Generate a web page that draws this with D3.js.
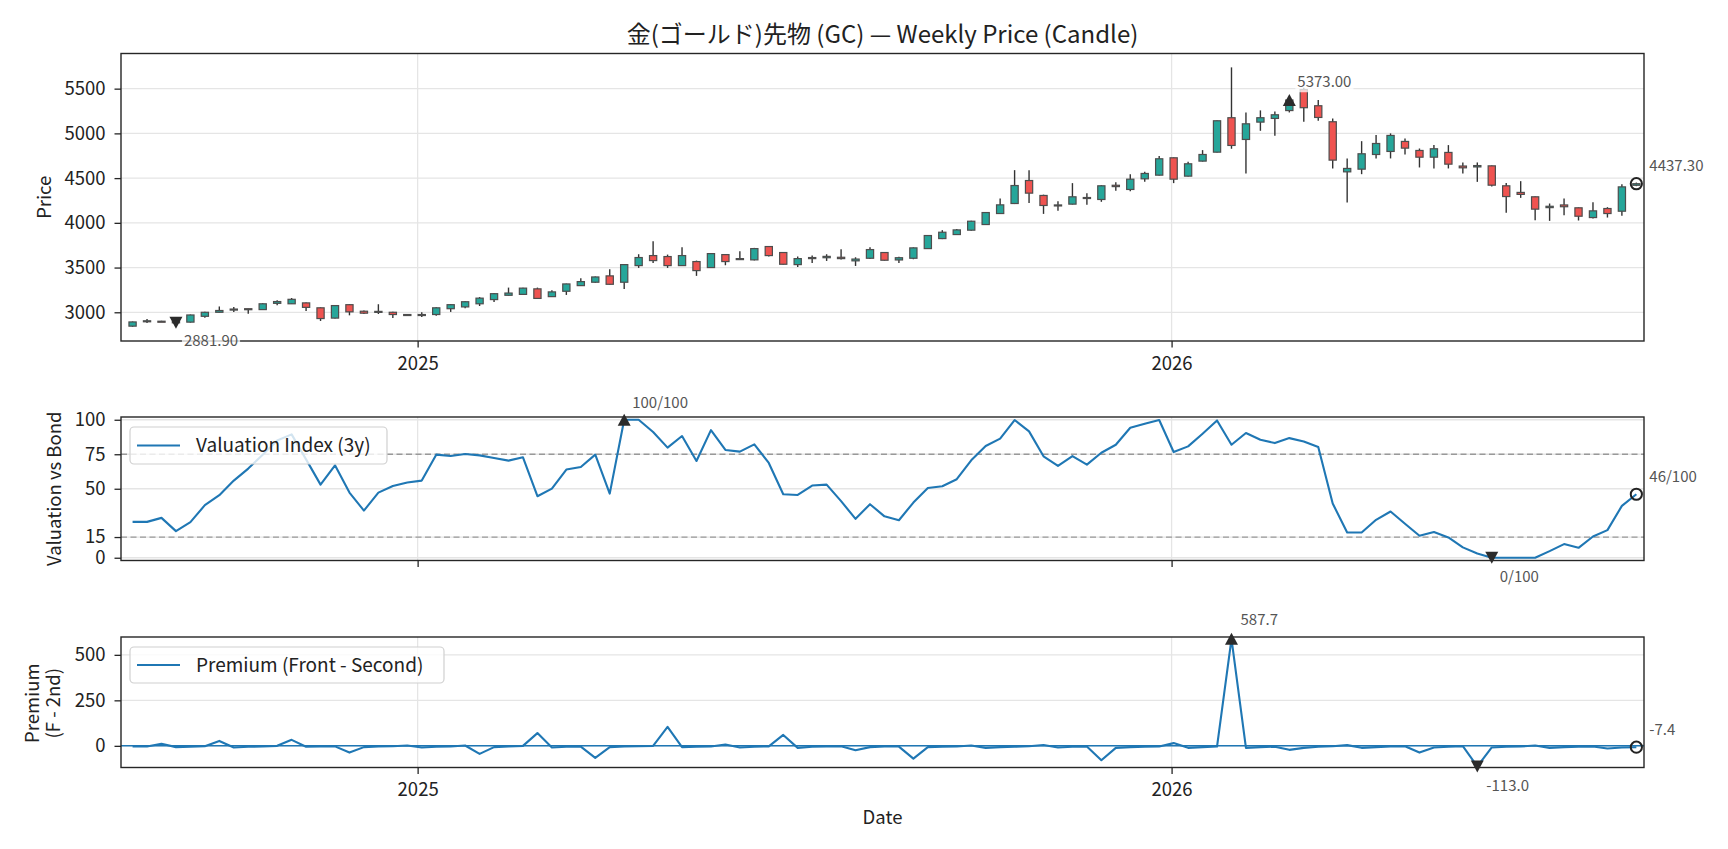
<!DOCTYPE html>
<html>
<head>
<meta charset="utf-8">
<script src="https://cdn.jsdelivr.net/npm/d3@7"></script>
<style>
  body { margin: 0; background: #fff; }
  svg text { font-family: "Noto Sans CJK JP", "Noto Sans", sans-serif; }
</style>
</head>
<body>
<svg width="1728" height="849"></svg>
<script>
// weekly bars (Friday)
var dates = [
  "2024-08-16","2024-08-23","2024-08-30","2024-09-06","2024-09-13","2024-09-20","2024-09-27",
  "2024-10-04","2024-10-11","2024-10-18","2024-10-25","2024-11-01","2024-11-08","2024-11-15",
  "2024-11-22","2024-11-29","2024-12-06","2024-12-13","2024-12-20","2024-12-27","2025-01-03",
  "2025-01-10","2025-01-17","2025-01-24","2025-01-31","2025-02-07","2025-02-14","2025-02-21",
  "2025-02-28","2025-03-07","2025-03-14","2025-03-21","2025-03-28","2025-04-04","2025-04-11",
  "2025-04-18","2025-04-25","2025-05-02","2025-05-09","2025-05-16","2025-05-23","2025-05-30",
  "2025-06-06","2025-06-13","2025-06-20","2025-06-27","2025-07-04","2025-07-11","2025-07-18",
  "2025-07-25","2025-08-01","2025-08-08","2025-08-15","2025-08-22","2025-08-29","2025-09-05",
  "2025-09-12","2025-09-19","2025-09-26","2025-10-03","2025-10-10","2025-10-17","2025-10-24",
  "2025-10-31","2025-11-07","2025-11-14","2025-11-21","2025-11-28","2025-12-05","2025-12-12",
  "2025-12-19","2025-12-26","2026-01-02","2026-01-09","2026-01-16","2026-01-23","2026-01-30",
  "2026-02-06","2026-02-13","2026-02-20","2026-02-27","2026-03-06","2026-03-13","2026-03-20",
  "2026-03-27","2026-04-03","2026-04-10","2026-04-17","2026-04-24","2026-05-01","2026-05-08",
  "2026-05-15","2026-05-22","2026-05-29","2026-06-05","2026-06-12","2026-06-19","2026-06-26",
  "2026-07-03","2026-07-10","2026-07-17","2026-07-24","2026-07-31","2026-08-07","2026-08-14"
];

var open = [
  2845,2898,2900,2895,2890,2955,3000,3030,3040,3030,3100,3095,3105,3050,2935,3085,3012,3005,3000,2975,
  2965,2975,3040,3060,3095,3142,3190,3200,3262,3175,3235,3298,3336,3407,3336,3522,3634,3623,3522,3567,
  3500,3645,3590,3586,3735,3668,3533,3600,3610,3615,3575,3604,3668,3585,3604,3712,3824,3869,3918,3981,
  4104,4216,4473,4306,4190,4209,4275,4261,4420,4373,4492,4533,4727,4522,4690,4790,5175,4932,5126,5167,
  5255,5490,5309,5130,4570,4600,4764,4798,4910,4809,4734,4787,4635,4625,4637,4414,4340,4291,4170,4200,
  4168,4059,4160,4130,4420
];
var high = [
  2897,2925,2905,2905,2975,3005,3065,3060,3040,3100,3134,3160,3110,3055,3078,3090,3020,3090,3005,2978,
  3000,3055,3090,3122,3170,3215,3276,3275,3276,3246,3320,3380,3400,3481,3540,3649,3794,3645,3727,3578,
  3660,3650,3683,3720,3740,3672,3623,3634,3649,3705,3615,3727,3672,3620,3725,3860,3918,3930,4022,4120,
  4272,4589,4589,4315,4242,4444,4332,4420,4455,4544,4570,4746,4730,4682,4813,5145,5738,5234,5257,5245,
  5380,5510,5372,5167,4720,4913,4981,5000,4943,4831,4869,4869,4675,4675,4640,4444,4466,4295,4216,4272,
  4172,4231,4175,4432,4450
];
var low = [
  2838,2880,2893,2870,2885,2938,2998,3004,2985,3025,3078,3095,3015,2903,2930,2966,2980,2981,2937,2968,
  2948,2960,3004,3045,3070,3115,3188,3195,3150,3172,3194,3295,3330,3310,3261,3496,3552,3496,3518,3407,
  3498,3526,3585,3580,3625,3533,3507,3552,3574,3590,3518,3597,3578,3552,3593,3708,3818,3865,3912,3978,
  4100,4210,4223,4100,4134,4205,4201,4235,4358,4354,4458,4530,4444,4518,4685,4785,4828,4552,5029,4973,
  5234,5130,5141,4608,4227,4544,4720,4720,4764,4619,4608,4608,4552,4458,4406,4112,4279,4029,4022,4085,
  4026,4048,4059,4078,4410
];
var close = [
  2892,2905,2897,2881.9,2970,3000,3020,3036,3035,3095,3120,3145,3055,2930,3075,3005,2990,3010,2975,2972,
  2975,3050,3085,3118,3158,3208,3215,3270,3155,3228,3317,3343,3395,3313,3533,3612,3578,3522,3634,3466,
  3656,3567,3600,3712,3634,3537,3600,3612,3625,3600,3595,3701,3582,3610,3720,3858,3895,3921,4018,4115,
  4201,4417,4332,4194,4200,4291,4283,4414,4405,4488,4552,4716,4488,4660,4764,5141,4865,5107,5175,5208,
  5373,5287,5178,4701,4608,4772,4887,4977,4835,4734,4828,4656,4615,4640,4421,4294,4318,4153,4185,4180,
  4074,4134,4104,4402,4437.3
];

// valuation index vs bond, 0-100
var valuation = [
  26.0,26.0,28.9,19.3,25.8,38.1,45.3,55.9,64.6,74.7,85.0,89.4,71.3,53.0,67.0,47.2,34.2,47.2,52.0,54.5,
  55.9,74.7,73.7,75.2,74.2,72.3,70.4,72.8,44.6,50.1,63.9,65.8,74.7,46.5,100,100,91.1,79.8,88.2,70.1,
  92.5,78.1,76.9,82.2,68.7,46.0,45.5,52.3,53.0,41.0,28.2,38.8,30.0,27.2,40.0,50.6,51.8,56.9,70.6,81.0,
  86.3,99.8,91.6,73.5,66.5,73.7,67.5,76.1,81.9,94.2,97.1,99.8,76.6,80.7,89.9,99.5,81.9,90.4,85.5,83.1,
  86.7,84.3,80.2,39.3,18.3,18.3,27.5,33.5,24.6,15.9,18.6,14.7,7.5,3.1,0,0,0,0,4.8,9.9,
  7.2,15.4,20.0,37.6,46
];

// front minus second month
var premium = [
  -4,-4,11,-7,-5,-2,27,-9,-5,-4,0,33,-5,-4,-3,-37,-7,-4,-2,2,
  -9,-5,-4,2,-44,-7,-4,0,70,-9,-5,-4,-66,-7,-4,-2,0,104,-7,-5,
  -4,7,-9,-5,-3,60,-11,-5,-4,-2,-24,-7,-4,-4,-70,-7,-5,-4,2,-11,
  -7,-5,-2,5,-9,-5,-4,-79,-11,-7,-5,-4,15,-11,-7,-4,587.7,-11,-7,-5,
  -22,-11,-5,-2,4,-11,-7,-4,-2,-37,-9,-5,-2,-113,-9,-5,-4,2,-11,-7,
  -5,-4,-15,-9,-7.4
];

var priceTicks = [3000, 3500, 4000, 4500, 5000, 5500];
var valTicks = [0, 15, 50, 75, 100];
var valBands = [15, 75];
var premTicks = [0, 250, 500];
var yearTicks = ["2025-01-01", "2026-01-01"];

var svg = d3.select("svg"),
    left = 121,
    right = 1644,
    DAY = 864e5;

var parse = d3.timeParse("%Y-%m-%d");
var years = yearTicks.map(parse);

var data = dates.map(function(d, i) {
  return {date: parse(d), o: open[i], h: high[i], l: low[i], c: close[i],
          v: valuation[i], p: premium[i]};
});
var last = data[data.length - 1];

// scales
var x = d3.scaleTime()
    .domain([new Date(+data[0].date - 5.6 * DAY), new Date(+last.date + 3.7 * DAY)])
    .range([left, right]);

var pricePanel = {top: 53.5, bottom: 341},
    valPanel = {top: 417, bottom: 560.5},
    premPanel = {top: 637, bottom: 767.5};

var yPrice = d3.scaleLinear().domain([2679, 5893]).range([pricePanel.bottom, pricePanel.top]);
var yVal = d3.scaleLinear().domain([-2, 102]).range([valPanel.bottom, valPanel.top]);
var yPrem = d3.scaleLinear().domain([-119, 598]).range([premPanel.bottom, premPanel.top]);

var BLUE = "#1f77b4", INK = "#262626";

// grid + axes for one panel
function frame(panel, y, ticks, yearLabels) {
  var g = svg.append("g");
  g.selectAll(".hgrid").data(ticks).enter().append("line")
      .attr("x1", left).attr("x2", right)
      .attr("y1", function(d) { return y(d); })
      .attr("y2", function(d) { return y(d); })
      .attr("stroke", "#e5e5e5").attr("stroke-width", 1.3);
  g.selectAll(".vgrid").data(years).enter().append("line")
      .attr("x1", function(d) { return x(d); })
      .attr("x2", function(d) { return x(d); })
      .attr("y1", panel.top).attr("y2", panel.bottom)
      .attr("stroke", "#e5e5e5").attr("stroke-width", 1.3);

  var ya = svg.append("g")
      .attr("transform", "translate(" + left + ",0)")
      .call(d3.axisLeft(y).tickValues(ticks).tickSize(6.5).tickPadding(9).tickFormat(d3.format("d")));
  var xa = svg.append("g")
      .attr("transform", "translate(0," + panel.bottom + ")")
      .call(d3.axisBottom(x).tickValues(years).tickSize(6.5).tickPadding(9)
        .tickFormat(yearLabels ? d3.timeFormat("%Y") : function() { return ""; }));
  [ya, xa].forEach(function(a) {
    a.select(".domain").remove();
    a.selectAll(".tick line").attr("stroke", INK).attr("stroke-width", 1.3);
    a.selectAll(".tick text").attr("fill", "#222").attr("font-size", 18.5)
        .style("font-family", "'Noto Sans CJK JP', 'Noto Sans', sans-serif");
  });
}

function spine(panel) {
  svg.append("rect")
      .attr("x", left).attr("y", panel.top)
      .attr("width", right - left).attr("height", panel.bottom - panel.top)
      .attr("fill", "none").attr("stroke", INK).attr("stroke-width", 1.4);
}

function marker(kind, cx, cy) {
  if (kind === "o") {
    svg.append("circle").attr("cx", cx).attr("cy", cy).attr("r", 5.6)
        .attr("fill", "none").attr("stroke", "#222").attr("stroke-width", 2);
    return;
  }
  var s = kind === "^" ? -1 : 1;
  svg.append("path")
      .attr("d", "M" + (cx - 6.5) + "," + (cy - s * 6) + "L" + (cx + 6.5) + "," + (cy - s * 6) +
                 "L" + cx + "," + (cy + s * 6) + "Z")
      .attr("fill", "#2b2b2b");
}

function note(label, px, py) {
  var g = svg.append("g");
  var t = g.append("text")
      .attr("x", px).attr("y", py).attr("dy", "0.35em")
      .attr("font-size", 15).attr("fill", "#555")
      .text(label);
  var b = t.node().getBBox();
  g.insert("rect", "text")
      .attr("x", b.x - 2).attr("y", b.y - 1)
      .attr("width", b.width + 4).attr("height", b.height + 2)
      .attr("fill", "#fff").attr("fill-opacity", 0.75);
}

function legend(x0, y0, w, h, label) {
  var g = svg.append("g");
  g.append("rect")
      .attr("x", x0).attr("y", y0).attr("width", w).attr("height", h).attr("rx", 4)
      .attr("fill", "#fff").attr("fill-opacity", 0.8)
      .attr("stroke", "#d0d0d0").attr("stroke-width", 1.2);
  g.append("line")
      .attr("x1", x0 + 7).attr("x2", x0 + 50)
      .attr("y1", y0 + h / 2).attr("y2", y0 + h / 2)
      .attr("stroke", BLUE).attr("stroke-width", 2.2);
  g.append("text")
      .attr("x", x0 + 66).attr("y", y0 + h / 2).attr("dy", "0.35em")
      .attr("font-size", 19).attr("fill", "#222")
      .text(label);
}

function ylabel(lines, cx, cy) {
  lines.forEach(function(s, i) {
    svg.append("text")
        .attr("transform", "translate(" + (cx + i * 21) + "," + cy + ") rotate(-90)")
        .attr("text-anchor", "middle").attr("dy", "0.35em")
        .attr("font-size", 18.5).attr("fill", "#222")
        .text(s);
  });
}

// PRICE PANEL ------------------------
frame(pricePanel, yPrice, priceTicks, true);

var step = x(data[1].date) - x(data[0].date),
    bodyW = step * 0.5;

var candle = svg.append("g").selectAll("g")
    .data(data)
  .enter().append("g");

candle.append("line") // wick
    .attr("x1", function(d) { return x(d.date); })
    .attr("x2", function(d) { return x(d.date); })
    .attr("y1", function(d) { return yPrice(d.h); })
    .attr("y2", function(d) { return yPrice(d.l); })
    .attr("stroke", "#333").attr("stroke-width", 1.4);

candle.append("rect") // body
    .attr("x", function(d) { return x(d.date) - bodyW / 2; })
    .attr("width", bodyW)
    .attr("y", function(d) { return yPrice(Math.max(d.o, d.c)); })
    .attr("height", function(d) { return Math.max(1, Math.abs(yPrice(d.o) - yPrice(d.c))); })
    .attr("fill", function(d) { return d.c >= d.o ? "#26a69a" : "#ef5350"; })
    .attr("stroke", "#4d4d4d").attr("stroke-width", 1.2);

spine(pricePanel);

var pMax = data[d3.maxIndex(data, function(d) { return d.c; })],
    pMin = data[d3.minIndex(data, function(d) { return d.c; })];
marker("^", x(pMax.date), yPrice(pMax.c));
note(pMax.c.toFixed(2), x(pMax.date) + 8, yPrice(pMax.c) - 18);
marker("v", x(pMin.date), yPrice(pMin.c));
note(pMin.c.toFixed(2), x(pMin.date) + 8, yPrice(pMin.c) + 18);
marker("o", x(last.date), yPrice(last.c));
note(last.c.toFixed(2), x(last.date) + 13, yPrice(last.c) - 18);

// VALUATION PANEL ------------------------
frame(valPanel, yVal, valTicks, false);

svg.append("g").selectAll("line")
    .data(valBands)
  .enter().append("line")
    .attr("x1", left).attr("x2", right)
    .attr("y1", function(d) { return yVal(d); })
    .attr("y2", function(d) { return yVal(d); })
    .attr("stroke", "#999").attr("stroke-width", 1.3)
    .attr("stroke-dasharray", "6,3.5");

svg.append("path")
    .datum(data)
    .attr("fill", "none").attr("stroke", BLUE).attr("stroke-width", 2.1)
    .attr("stroke-linejoin", "round")
    .attr("d", d3.line()
      .x(function(d) { return x(d.date); })
      .y(function(d) { return yVal(d.v); }));

spine(valPanel);

var vMax = data[d3.maxIndex(data, function(d) { return d.v; })],
    vMin = data[d3.minIndex(data, function(d) { return d.v; })];
marker("^", x(vMax.date), yVal(vMax.v));
note(Math.round(vMax.v) + "/100", x(vMax.date) + 8, yVal(vMax.v) - 17);
marker("v", x(vMin.date), yVal(vMin.v));
note(Math.round(vMin.v) + "/100", x(vMin.date) + 8, yVal(vMin.v) + 19);
marker("o", x(last.date), yVal(last.v));
note(Math.round(last.v) + "/100", x(last.date) + 13, yVal(last.v) - 18);

legend(130, 427, 257, 37, "Valuation Index (3y)");

// PREMIUM PANEL ------------------------
frame(premPanel, yPrem, premTicks, true);

svg.append("line") // zero line
    .attr("x1", left).attr("x2", right)
    .attr("y1", yPrem(0)).attr("y2", yPrem(0))
    .attr("stroke", BLUE).attr("stroke-width", 1.5);

svg.append("path")
    .datum(data)
    .attr("fill", "none").attr("stroke", BLUE).attr("stroke-width", 2.1)
    .attr("stroke-linejoin", "round")
    .attr("d", d3.line()
      .x(function(d) { return x(d.date); })
      .y(function(d) { return yPrem(d.p); }));

spine(premPanel);

var qMax = data[d3.maxIndex(data, function(d) { return d.p; })],
    qMin = data[d3.minIndex(data, function(d) { return d.p; })];
marker("^", x(qMax.date), yPrem(qMax.p));
note(qMax.p.toFixed(1), x(qMax.date) + 9, yPrem(qMax.p) - 19);
marker("v", x(qMin.date), yPrem(qMin.p));
note(qMin.p.toFixed(1), x(qMin.date) + 9, yPrem(qMin.p) + 19);
marker("o", x(last.date), yPrem(last.p));
note(last.p.toFixed(1), x(last.date) + 13, yPrem(last.p) - 17);

legend(130, 647, 314, 36, "Premium (Front - Second)");

// LABELS ------------------------
svg.append("text")
    .attr("x", (left + right) / 2).attr("y", 35).attr("dy", "0.35em")
    .attr("text-anchor", "middle").attr("font-size", 24).attr("fill", "#222")
    .text("金(ゴールド)先物 (GC) — Weekly Price (Candle)");

ylabel(["Price"], 45, (pricePanel.top + pricePanel.bottom) / 2);
ylabel(["Valuation vs Bond"], 55, (valPanel.top + valPanel.bottom) / 2);
ylabel(["Premium", "(F - 2nd)"], 33, (premPanel.top + premPanel.bottom) / 2 + 1);

svg.append("text")
    .attr("x", (left + right) / 2).attr("y", 818).attr("dy", "0.35em")
    .attr("text-anchor", "middle").attr("font-size", 18.5).attr("fill", "#222")
    .text("Date");
</script>
</body>
</html>
